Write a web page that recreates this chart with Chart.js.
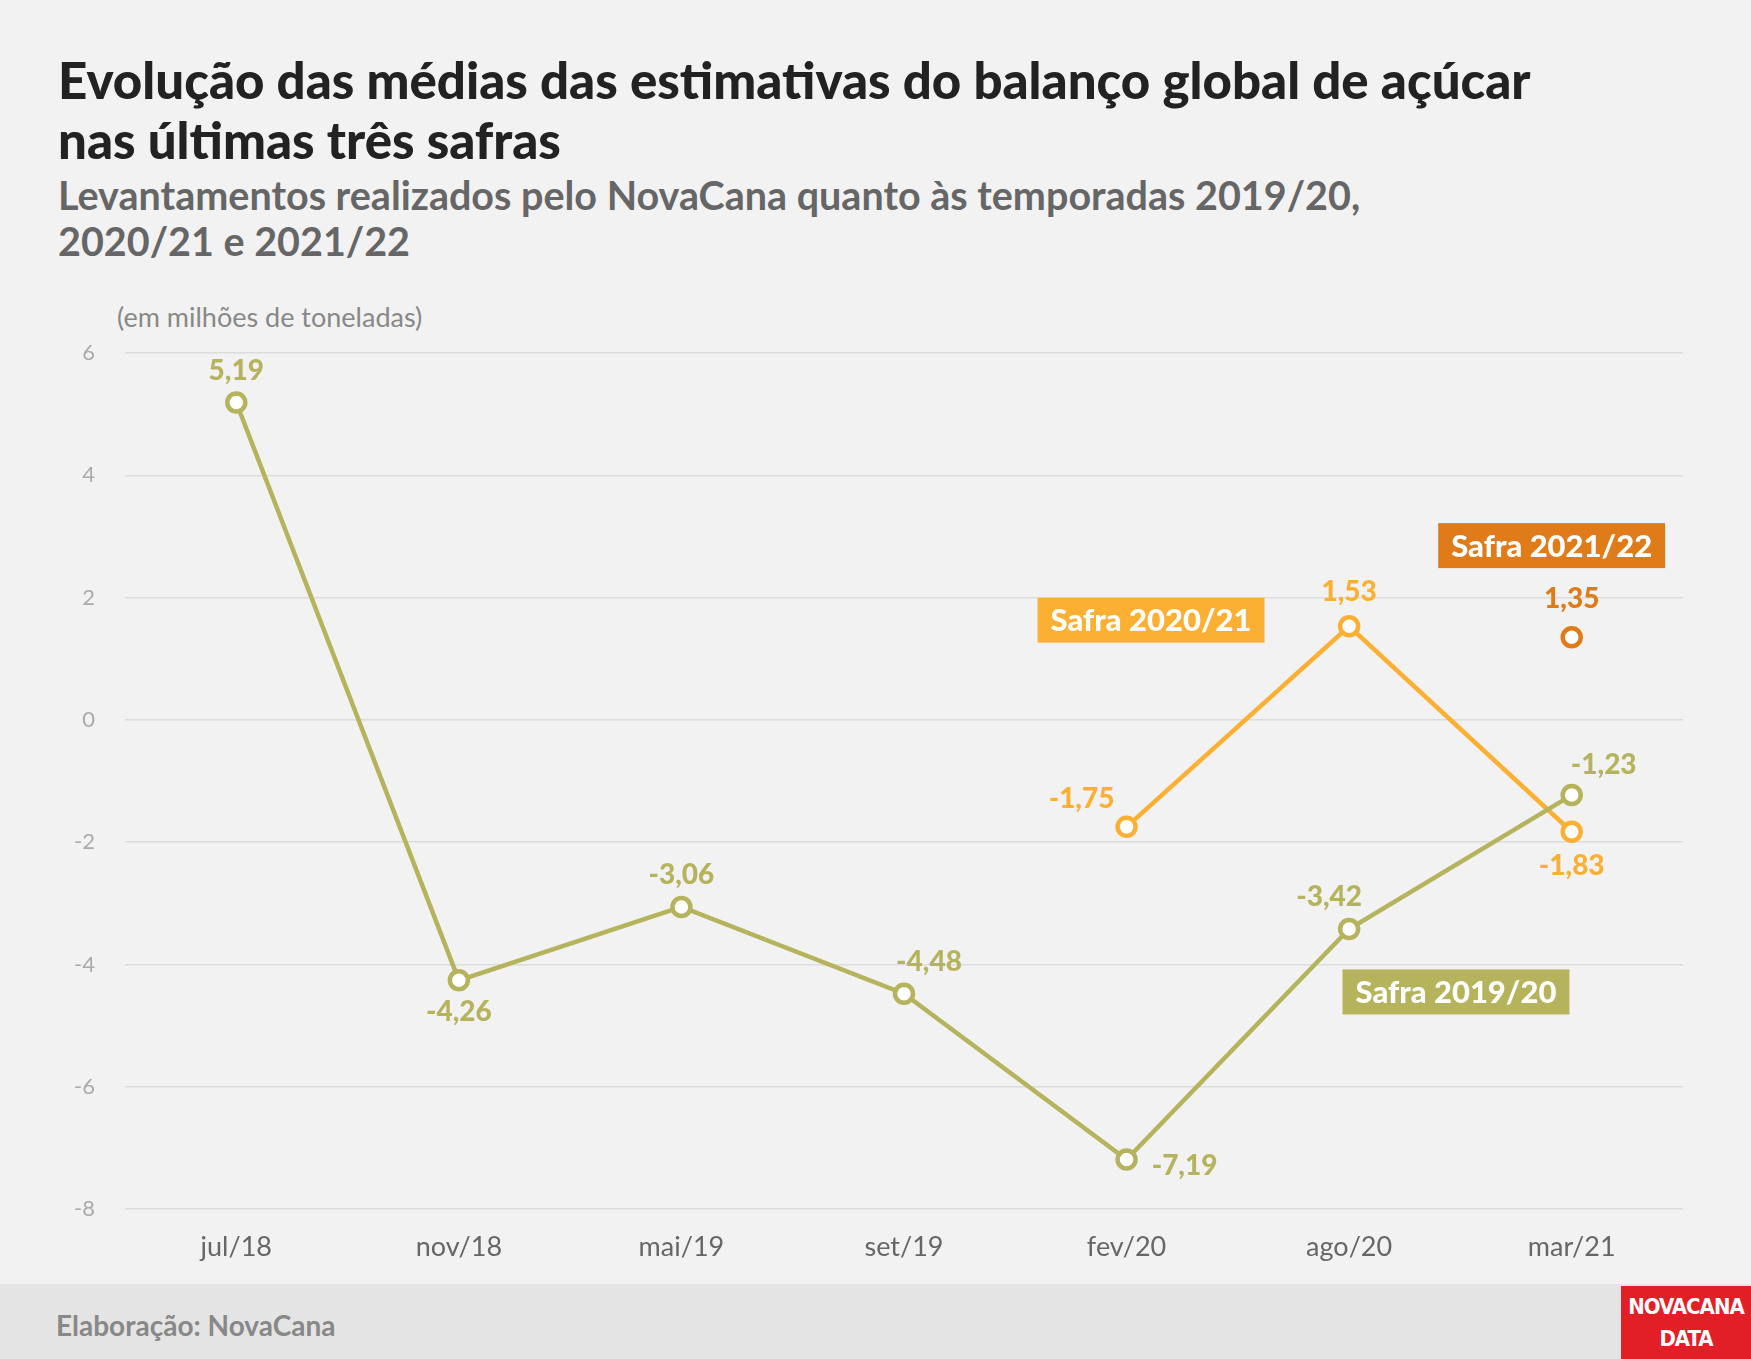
<!DOCTYPE html>
<html><head><meta charset="utf-8">
<script src="https://cdn.jsdelivr.net/npm/chart.js@4"></script>
<style>
body{margin:0;width:1751px;height:1359px;background:#f2f2f2;font-family:Lato,sans-serif;position:relative;overflow:hidden}
.t{position:absolute;left:58px;top:50px;font-size:51px;font-weight:900;color:#222;line-height:60px}
.s{position:absolute;left:58px;top:172px;font-size:39.5px;font-weight:700;color:#666;line-height:46px}
.u{position:absolute;left:117px;top:300px;font-size:27px;color:#888}
.f{position:absolute;left:0;top:1284px;width:1751px;height:75px;background:#e4e4e4}
.ft{position:absolute;left:56px;top:1308px;font-size:28px;font-weight:700;color:#888}
.logo{position:absolute;left:1621px;top:1286px;width:130px;height:73px;background:#e21e26;color:#fff;font-family:'DejaVu Sans Condensed','DejaVu Sans',sans-serif;font-weight:bold;font-size:22px;line-height:32px;text-align:center;padding-top:5px;box-sizing:border-box;letter-spacing:-1px;overflow:hidden}
canvas{position:absolute;left:0;top:0}
</style></head><body>
<div class="t">Evolução das médias das estimativas do balanço global de açúcar<br>nas últimas três safras</div>
<div class="s">Levantamentos realizados pelo NovaCana quanto às temporadas 2019/20,<br>2020/21 e 2021/22</div>
<div class="u">(em milhões de toneladas)</div>
<div class="f"></div><div class="ft">Elaboração: NovaCana</div>
<div class="logo">NOVACANA<br>DATA</div>
<canvas id="c" width="1751" height="1359"></canvas>
<script>
const categories=['jul/18','nov/18','mai/19','set/19','fev/20','ago/20','mar/21'];
const safra1920=[5.19,-4.26,-3.06,-4.48,-7.19,-3.42,-1.23];
const safra2021=[null,null,null,null,-1.75,1.53,-1.83];
const safra2122=[null,null,null,null,null,null,1.35];
const yTicks=[-8,-6,-4,-2,0,2,4,6];
const colors=['#b5b35c','#fbb034','#e07b1a'];
const names=['Safra 2019/20','Safra 2020/21','Safra 2021/22'];
const boxAnchors=[[5.48,-4.45],[4.11,1.63],[5.91,2.85]];
const offs=[[[0,-32],[0,32],[0,-32],[25,-32],[58,6],[-20,-32],[32,-30]],
 [null,null,null,null,[-45,-28],[0,-34],[0,34]],[null,null,null,null,null,null,[0,-38]]];
const fmt=v=>v.toFixed(2).replace('.',',');
const ds=(d,i)=>({label:names[i],data:d,borderColor:colors[i],backgroundColor:'#fff',pointBackgroundColor:'#fff',pointBorderColor:colors[i],pointRadius:9,pointBorderWidth:4.5,borderWidth:4.5,spanGaps:false});
const lab={id:'lab',afterDatasetsDraw(ch){const c=ch.ctx,xs=ch.scales.x,ys=ch.scales.y;
 c.save();c.font='900 28px Lato';c.textAlign='center';c.textBaseline='middle';
 ch.data.datasets.forEach((d,i)=>{ch.getDatasetMeta(i).data.forEach((p,j)=>{const v=d.data[j];if(v==null)return;const o=offs[i][j];c.fillStyle=colors[i];c.fillText(fmt(v),p.x+o[0],p.y+o[1]);});});
 c.font='900 31px Lato';
 names.forEach((n,i)=>{const x=xs.getPixelForValue(boxAnchors[i][0]),y=ys.getPixelForValue(boxAnchors[i][1]);const w=c.measureText(n).width+26,h=45;c.fillStyle=colors[i];c.fillRect(x-w/2,y-h/2,w,h);c.fillStyle='#fff';c.fillText(n,x,y+1);});
 c.restore();}};
new Chart(document.getElementById('c'),{type:'line',data:{labels:categories,datasets:[ds(safra1920,0),ds(safra2021,1),ds(safra2122,2)]},
options:{responsive:false,animation:false,layout:{padding:{top:353,right:68,left:0,bottom:0}},
plugins:{legend:{display:false},tooltip:{enabled:false}},
scales:{x:{offset:true,grid:{display:false},border:{display:false},ticks:{color:'#666',font:{family:'Lato',size:27},padding:14},afterFit:s=>{s.height=150}},
y:{min:-8,max:6,afterBuildTicks:s=>{s.ticks=yTicks.map(v=>({value:v}))},grid:{color:'#dcdcdc',lineWidth:1.5,drawTicks:false},border:{display:false},ticks:{color:'#aaa',font:{family:'Lato',size:22},padding:30},afterFit:s=>{s.width=125}}}},
plugins:[lab]});
</script></body></html>
